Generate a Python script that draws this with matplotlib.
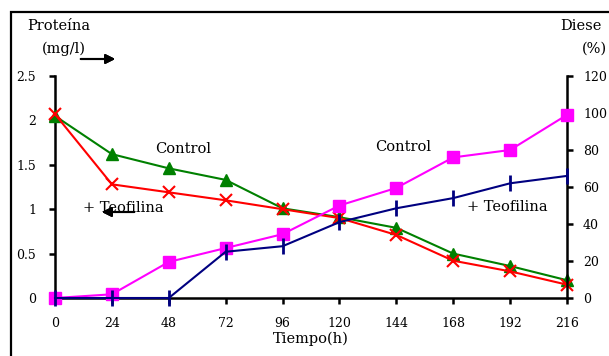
import matplotlib
matplotlib.use("Agg")
import matplotlib.pyplot as plt
from matplotlib.patches import Rectangle

# data
hours = [0, 24, 48, 72, 96, 120, 144, 168, 192, 216]
protein_control = [2.05, 1.62, 1.46, 1.33, 1.01, 0.91, 0.79, 0.50, 0.36, 0.20]
protein_teof = [2.07, 1.28, 1.19, 1.10, 1.00, 0.90, 0.71, 0.42, 0.30, 0.15]
diesel_control = [0, 2, 19.5, 27, 34.5, 50, 59.5, 76, 80, 99]
diesel_teof = [0, 0, 0, 25, 28, 41, 48.5, 54, 62, 66]
left_ticks = [0, 0.5, 1, 1.5, 2, 2.5]
left_labels = ["0", "0.5", "1", "1.5", "2", "2.5"]
right_ticks = [0, 20, 40, 60, 80, 100, 120]

plt.rcParams['font.family'] = ['DejaVu Serif']
W, H = 609, 356
fig = plt.figure(figsize=(W / 100, H / 100), dpi=100)


def px(x, y):
    return x / W, 1 - y / H


# outer frame, runs off the right and bottom edges
fig.patches.append(Rectangle(px(11, 380), 620 / W, 368 / H, transform=fig.transFigure,
                             fill=False, lw=1.6, ec='black'))

x0, x1, ytop, ybot = 55, 567, 76, 298
ax = fig.add_axes([x0 / W, 1 - ybot / H, (x1 - x0) / W, (ybot - ytop) / H])
ax.patch.set_visible(False)
ax2 = ax.twinx()

ax.plot(hours, protein_control, color='#008000', lw=1.5, marker='^', ms=9, clip_on=False, zorder=3)
ax.plot(hours, protein_teof, color='#ff0000', lw=1.5, marker='x', ms=9, mew=1.5, clip_on=False, zorder=4)
ax2.plot(hours, diesel_control, color='#ff00ff', lw=1.5, marker='s', ms=9, clip_on=False, zorder=3)
ax2.plot(hours, diesel_teof, color='#000080', lw=1.5, marker='|', ms=11, mew=2, clip_on=False, zorder=4)

ax.set_xlim(0, 216)
ax.set_ylim(0, 2.5)
ax2.set_ylim(0, 120)

ax.set_xticks(hours)
ax.set_yticks(left_ticks)
ax.set_yticklabels(left_labels)
ax2.set_yticks(right_ticks)

for a in (ax, ax2):
    a.spines['top'].set_visible(False)
    for s in a.spines.values():
        s.set_linewidth(1.8)
    a.tick_params(direction='out', length=4.5, width=1.8, labelsize=9)
ax.tick_params(axis='y', pad=9)
ax.tick_params(axis='x', pad=9)
ax2.tick_params(axis='y', pad=7)
ax2.spines['left'].set_visible(False)
ax2.spines['bottom'].set_visible(False)
ax.spines['right'].set_visible(False)

ax.set_xlabel("Tiempo(h)", fontsize=10.5, labelpad=1)

fs = 10.5
fig.text(*px(27, 30), "Proteína", fontsize=fs)
fig.text(*px(42, 53), "(mg/l)", fontsize=fs)
fig.text(*px(560, 30), "Diese", fontsize=fs)
fig.text(*px(582, 53), "(%)", fontsize=fs)
fig.text(*px(155, 153), "Control", fontsize=fs)
fig.text(*px(375, 151), "Control", fontsize=fs)
fig.text(*px(83, 212), "+ Teofilina", fontsize=fs)
fig.text(*px(467, 211), "+ Teofilina", fontsize=fs)

arrow = dict(arrowstyle='-|>', color='black', lw=1.5, mutation_scale=14)
fig.add_artist(plt.annotate("", xy=px(118, 59), xytext=px(78, 59),
                            xycoords='figure fraction', arrowprops=arrow))
fig.add_artist(plt.annotate("", xy=px(99, 212), xytext=px(137, 212),
                            xycoords='figure fraction', arrowprops=arrow))

fig.savefig("out.png", dpi=100)
